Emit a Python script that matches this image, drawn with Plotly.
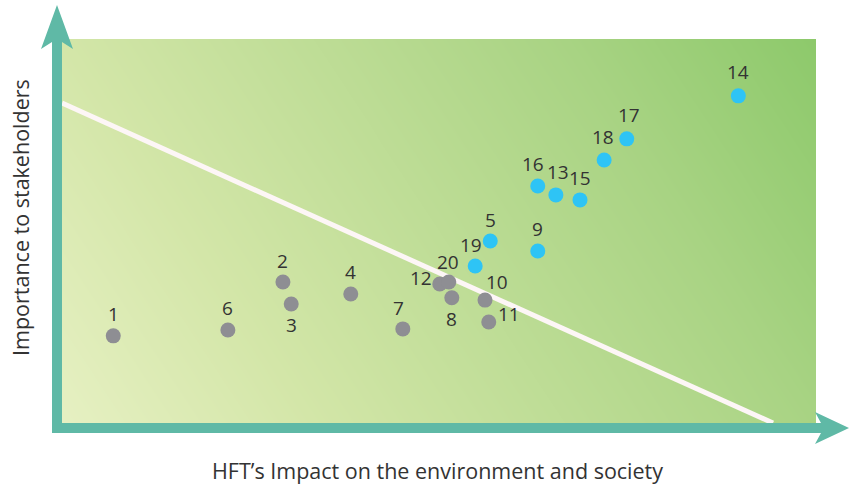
import numpy as np
import plotly.graph_objects as go

# ---- data (0-10 scales) ----
labels = ["1", "2", "3", "4", "5", "6", "7", "8", "9", "10",
          "11", "12", "13", "14", "15", "16", "17", "18", "19", "20"]
impact = [0.68, 2.93, 3.04, 3.83, 5.68, 2.20, 4.52, 5.17, 6.31, 5.61,
          5.66, 5.01, 6.55, 8.97, 6.87, 6.31, 7.49, 7.19, 5.48, 5.13]
importance = [2.27, 3.67, 3.10, 3.36, 4.74, 2.42, 2.45, 3.26, 4.48, 3.20,
              2.63, 3.62, 5.94, 8.52, 5.81, 6.17, 7.40, 6.85, 4.09, 3.67]
material = [False, False, False, False, True, False, False, False, True, False,
            False, False, True, True, True, True, True, True, True, False]
threshold_x = [0.0, 9.43]
threshold_y = [8.33, 0.0]

# ---- layout geometry (pixels) ----
W, H = 849, 486
L, R, T, B = 62, 816, 39, 423

def px(x):
    return (x - L) / (R - L)

def py(y):
    return (B - y) / (B - T)

GRAY = "#8e8e93"
BLUE = "#2ec4f5"
TEAL = "#5fb9a6"
TXT = "#333333"
FONT = "Open Sans"

# label offsets in pixels (dx, dy up)
offsets = {
    "1": (0, 22), "2": (0, 21), "3": (0, -21), "4": (0, 22), "5": (0, 21),
    "6": (0, 22), "7": (-4, 21), "8": (0, -21), "9": (0, 22), "10": (12, 18),
    "11": (20, 8), "12": (-19, 6), "13": (2, 23), "14": (0, 24), "15": (0, 22),
    "16": (-5, 22), "17": (2, 24), "18": (-1, 23), "19": (-4, 21), "20": (-1, 20),
}

fig = go.Figure()

# gradient background
gx = np.linspace(0, 10, 41)
gy = np.linspace(0, 10, 41)
GX, GY = np.meshgrid(gx, gy)
gz = 0.75 * GX / 10 + 0.25 * GY / 10
fig.add_trace(go.Heatmap(
    x=gx, y=gy, z=gz, zsmooth="best", showscale=False, hoverinfo="skip",
    zmin=0, zmax=1,
    colorscale=[[0, "#e6f0c2"], [0.25, "#d3e6a8"], [0.75, "#a8d383"], [1, "#8dc96b"]],
))

# threshold line
fig.add_trace(go.Scatter(
    x=threshold_x, y=threshold_y, mode="lines",
    line=dict(color="#fdf6f6", width=5), hoverinfo="skip", showlegend=False,
))

# points
colors = [BLUE if m else GRAY for m in material]
fig.add_trace(go.Scatter(
    x=impact, y=importance, mode="markers",
    marker=dict(size=15, color=colors, line=dict(width=0)),
    showlegend=False, hoverinfo="text", text=labels,
))

annotations = []
for lab, xv, yv in zip(labels, impact, importance):
    dx, dy = offsets[lab]
    annotations.append(dict(
        x=xv, y=yv, xref="x", yref="y", text=lab, showarrow=False,
        xanchor="center", yanchor="middle",
        xshift=dx, yshift=dy, font=dict(family=FONT, size=19, color=TXT),
    ))

# axis titles
annotations.append(dict(
    x=px(437), y=py(470), xref="paper", yref="paper",
    xanchor="center", yanchor="middle",
    text="HFT\u2019s Impact on the environment and society", showarrow=False,
    font=dict(family=FONT, size=21.5, color=TXT),
))
annotations.append(dict(
    x=px(20), y=py(218), xref="paper", yref="paper",
    xanchor="center", yanchor="middle",
    text="Importance to stakeholders", showarrow=False, textangle=-90,
    font=dict(family=FONT, size=21.5, color=TXT),
))

def path(points):
    s = "M " + " L ".join(f"{px(a):.5f},{py(b):.5f}" for a, b in points) + " Z"
    return s

shapes = [
    dict(type="path", xref="paper", yref="paper", layer="above",
         path=path([(52, 433), (52, 42), (41, 49), (57, 5), (73, 49), (62, 42), (62, 433)]),
         fillcolor=TEAL, line=dict(width=0)),
    dict(type="path", xref="paper", yref="paper", layer="above",
         path=path([(52, 423), (821, 423), (815, 412), (849, 428), (815, 444), (821, 433), (52, 433)]),
         fillcolor=TEAL, line=dict(width=0)),
]

fig.update_layout(
    width=W, height=H,
    margin=dict(l=L, r=W - R, t=T, b=H - B, pad=0),
    paper_bgcolor="white", plot_bgcolor="white",
    xaxis=dict(range=[0, 10], visible=False, showgrid=False, zeroline=False, fixedrange=True),
    yaxis=dict(range=[0, 10], visible=False, showgrid=False, zeroline=False, fixedrange=True),
    annotations=annotations, shapes=shapes,
    showlegend=False,
)

fig.write_html(
    "out.html",
    config={"displayModeBar": False},
    post_script="document.body.style.margin='0';document.body.style.overflow='hidden';",
)
